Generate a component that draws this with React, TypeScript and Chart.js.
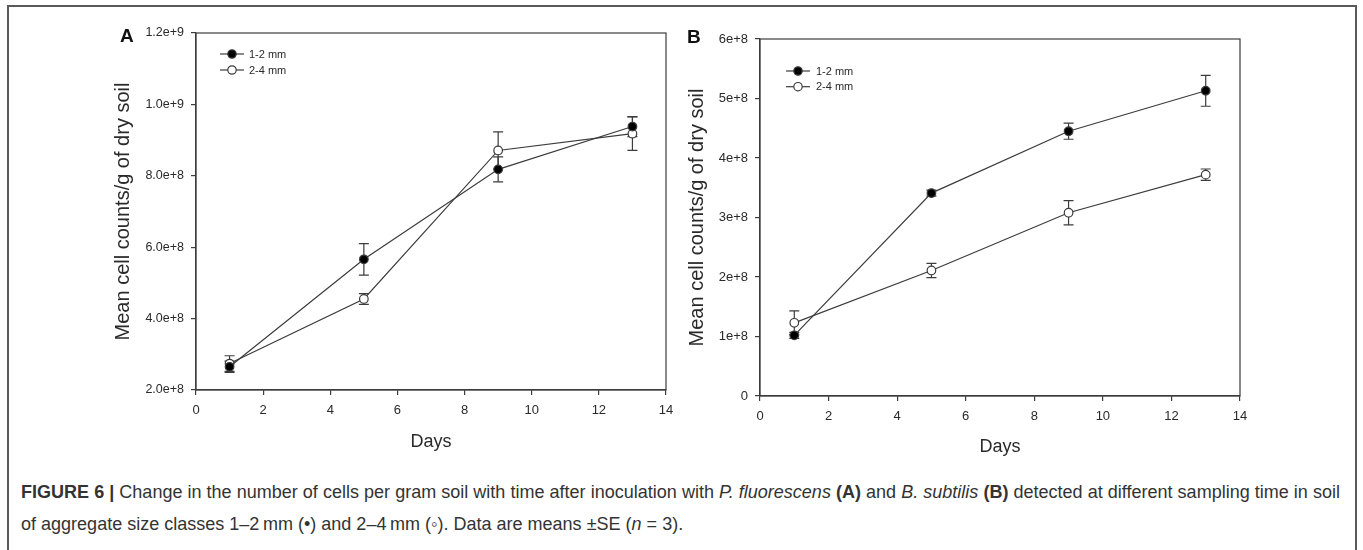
import React, { useEffect, useLayoutEffect, useRef, useState } from "react";
import { Chart, registerables } from "chart.js";

Chart.register(...registerables);

// ---------- data ----------
const days = [1, 5, 9, 13];
const seriesLabels = ["1-2 mm", "2-4 mm"];
const xTickValues = [0, 2, 4, 6, 8, 10, 12, 14];

// Panel A (P. fluorescens)
const aSmall = [2.65e8, 5.66e8, 8.18e8, 9.38e8];
const aSmallErr = [1.6e7, 4.4e7, 3.5e7, 2.8e7];
const aLarge = [2.74e8, 4.55e8, 8.71e8, 9.18e8];
const aLargeErr = [2.2e7, 1.5e7, 5.2e7, 4.7e7];
const aYTickValues = [2e8, 4e8, 6e8, 8e8, 1e9, 1.2e9];
const aYTickLabels = ["2.0e+8", "4.0e+8", "6.0e+8", "8.0e+8", "1.0e+9", "1.2e+9"];

// Panel B (B. subtilis)
const bSmall = [1.02e8, 3.41e8, 4.45e8, 5.13e8];
const bSmallErr = [5e6, 5e6, 1.35e7, 2.6e7];
const bLarge = [1.23e8, 2.11e8, 3.08e8, 3.72e8];
const bLargeErr = [2.0e7, 1.2e7, 2.05e7, 9.5e6];
const bYTickValues = [0, 1e8, 2e8, 3e8, 4e8, 5e8, 6e8];
const bYTickLabels = ["0", "1e+8", "2e+8", "3e+8", "4e+8", "5e+8", "6e+8"];

const FONT = '"Liberation Sans", Arial, Helvetica, sans-serif';
const INK = "#2a2a2a";
const LINE = "#3c3c3c";

type PanelSpec = {
  small: number[];
  smallErr: number[];
  large: number[];
  largeErr: number[];
  yTicks: number[];
  yLabels: string[];
  yMin: number;
  yMax: number;
  tickSize: number;
  padTop: number;
  padRight: number;
  yWidth: number;
  xHeight: number;
  xTitlePad: number;
  yTitlePad: number;
  legend: { x: number; y: number; dy: number; tx: number };
};

function makeConfig(p: PanelSpec): any {
  const errs = [p.smallErr, p.largeErr];

  const framePlugin = {
    id: "frameBox",
    afterDatasetsDraw(chart: any) {
      const { ctx, chartArea } = chart;
      ctx.save();
      ctx.strokeStyle = LINE;
      ctx.lineWidth = 1.2;
      ctx.strokeRect(chartArea.left, chartArea.top, chartArea.right - chartArea.left, chartArea.bottom - chartArea.top);
      ctx.restore();
    },
  };

  const errPlugin = {
    id: "errBars",
    beforeDatasetsDraw(chart: any) {
      const { ctx } = chart;
      const xs = chart.scales.x;
      const ys = chart.scales.y;
      ctx.save();
      ctx.strokeStyle = LINE;
      ctx.lineWidth = 1.2;
      chart.data.datasets.forEach((ds: any, di: number) => {
        ds.data.forEach((pt: any, i: number) => {
          const e = errs[di][i];
          const px = xs.getPixelForValue(pt.x);
          const yTop = ys.getPixelForValue(pt.y + e);
          const yBot = ys.getPixelForValue(pt.y - e);
          ctx.beginPath();
          ctx.moveTo(px, yTop);
          ctx.lineTo(px, yBot);
          ctx.moveTo(px - 5, yTop);
          ctx.lineTo(px + 5, yTop);
          ctx.moveTo(px - 5, yBot);
          ctx.lineTo(px + 5, yBot);
          ctx.stroke();
        });
      });
      ctx.restore();
    },
  };

  const legendPlugin = {
    id: "inLegend",
    afterDraw(chart: any) {
      const { ctx, chartArea } = chart;
      ctx.save();
      chart.data.datasets.forEach((ds: any, i: number) => {
        const cx = chartArea.left + p.legend.x;
        const cy = chartArea.top + p.legend.y + i * p.legend.dy;
        ctx.strokeStyle = LINE;
        ctx.lineWidth = 1.2;
        ctx.beginPath();
        ctx.moveTo(cx - 12, cy);
        ctx.lineTo(cx + 12, cy);
        ctx.stroke();
        ctx.beginPath();
        ctx.arc(cx, cy, 4.2, 0, Math.PI * 2);
        ctx.fillStyle = ds.pointBackgroundColor;
        ctx.fill();
        ctx.stroke();
        ctx.fillStyle = INK;
        ctx.font = `11px ${FONT}`;
        ctx.textBaseline = "middle";
        ctx.textAlign = "left";
        ctx.fillText(ds.label, cx + p.legend.tx, cy + 0.5);
      });
      ctx.restore();
    },
  };

  const mkDs = (label: string, vals: number[], fill: string) => ({
    label,
    data: days.map((d, i) => ({ x: d, y: vals[i] })),
    borderColor: LINE,
    borderWidth: 1.2,
    pointRadius: 4.3,
    pointBorderWidth: 1.2,
    pointBorderColor: LINE,
    pointBackgroundColor: fill,
    pointHoverRadius: 4.3,
    fill: false,
    tension: 0,
  });

  return {
    type: "line",
    data: {
      datasets: [mkDs(seriesLabels[0], p.small, "#000000"), mkDs(seriesLabels[1], p.large, "#ffffff")],
    },
    options: {
      responsive: false,
      animation: false,
      events: [],
      layout: { padding: { top: p.padTop, right: p.padRight, left: 0, bottom: 0 } },
      plugins: { legend: { display: false }, tooltip: { enabled: false } },
      scales: {
        x: {
          type: "linear",
          min: 0,
          max: 14,
          afterBuildTicks: (s: any) => {
            s.ticks = xTickValues.map((v) => ({ value: v }));
          },
          afterFit: (s: any) => {
            s.height = p.xHeight;
          },
          grid: { display: true, drawOnChartArea: false, drawTicks: true, tickLength: 5, color: LINE, lineWidth: 1.2 },
          border: { display: true, color: LINE, width: 1.2 },
          ticks: {
            padding: 8,
            color: INK,
            font: { family: FONT, size: 13 },
            maxRotation: 0,
            autoSkip: false,
            callback: (_v: any, i: number) => String(xTickValues[i]),
          },
          title: {
            display: true,
            text: "Days",
            color: INK,
            font: { family: FONT, size: 18 },
            padding: { top: 0, bottom: p.xTitlePad },
          },
        },
        y: {
          type: "linear",
          min: p.yMin,
          max: p.yMax,
          afterBuildTicks: (s: any) => {
            s.ticks = p.yTicks.map((v) => ({ value: v }));
          },
          afterFit: (s: any) => {
            s.width = p.yWidth;
          },
          grid: { display: true, drawOnChartArea: false, drawTicks: true, tickLength: 5, color: LINE, lineWidth: 1.2 },
          border: { display: true, color: LINE, width: 1.2 },
          ticks: {
            padding: 7,
            color: INK,
            font: { family: FONT, size: p.tickSize },
            autoSkip: false,
            callback: (_v: any, i: number) => p.yLabels[i],
          },
          title: {
            display: true,
            text: "Mean cell counts/g of dry soil",
            color: INK,
            font: { family: FONT, size: 20 },
            padding: { top: p.yTitlePad, bottom: 0 },
          },
        },
      },
    },
    plugins: [errPlugin, framePlugin, legendPlugin],
  };
}

const specA: PanelSpec = {
  small: aSmall,
  smallErr: aSmallErr,
  large: aLarge,
  largeErr: aLargeErr,
  yTicks: aYTickValues,
  yLabels: aYTickLabels,
  yMin: 2e8,
  yMax: 1.2e9,
  tickSize: 12.5,
  padTop: 33,
  padRight: 34,
  yWidth: 96,
  xHeight: 80,
  xTitlePad: 17,
  yTitlePad: 11,
  legend: { x: 36, y: 21, dy: 16, tx: 17 },
};

const specB: PanelSpec = {
  small: bSmall,
  smallErr: bSmallErr,
  large: bLarge,
  largeErr: bLargeErr,
  yTicks: bYTickValues,
  yLabels: bYTickLabels,
  yMin: 0,
  yMax: 6e8,
  tickSize: 13,
  padTop: 39,
  padRight: 40,
  yWidth: 80,
  xHeight: 74,
  xTitlePad: 12,
  yTitlePad: 5,
  legend: { x: 38, y: 32, dy: 15.7, tx: 18 },
};

function Panel({ spec, left }: { spec: PanelSpec; left: number }) {
  const ref = useRef<HTMLCanvasElement | null>(null);
  useEffect(() => {
    if (!ref.current) return;
    const chart = new Chart(ref.current, makeConfig(spec));
    return () => chart.destroy();
  }, [spec]);
  return (
    <canvas
      ref={ref}
      width={600}
      height={470}
      style={{ position: "absolute", left, top: 0, width: 600, height: 470 }}
    />
  );
}

const CAPTION_WIDTH = 1319;

function Caption() {
  const probe = useRef<HTMLSpanElement | null>(null);
  const [size, setSize] = useState(18);
  useLayoutEffect(() => {
    const el = probe.current;
    if (!el) return;
    const w = el.getBoundingClientRect().width;
    if (w > 0) setSize(Math.min(18.5, (18 * CAPTION_WIDTH) / w));
  }, []);
  const line1 = (
    <>
      <b>FIGURE 6 |</b> Change in the number of cells per gram soil with time after inoculation with{" "}
      <i>P. fluorescens</i> <b>(A)</b> and <i>B. subtilis</i> <b>(B)</b> detected at different sampling time in soil
    </>
  );
  return (
    <>
      <span
        ref={probe}
        style={{
          position: "absolute",
          left: 0,
          top: 0,
          visibility: "hidden",
          whiteSpace: "nowrap",
          fontFamily: FONT,
          fontSize: 18,
        }}
      >
        {line1}
      </span>
      <div
        style={{
          position: "absolute",
          left: 21,
          top: 476,
          width: CAPTION_WIDTH,
          fontFamily: FONT,
          fontSize: size,
          lineHeight: "32px",
          color: "#333",
        }}
      >
        <div style={{ textAlign: "justify", textAlignLast: "justify", whiteSpace: "nowrap" } as any}>{line1}</div>
        <div>
          of aggregate size classes 1–2{"\u2009"}mm (•) and 2–4{"\u2009"}mm (◦). Data are means ±SE (<i>n</i> = 3).
        </div>
      </div>
    </>
  );
}

export default function App() {
  const letter: React.CSSProperties = {
    position: "absolute",
    fontFamily: FONT,
    fontWeight: "bold",
    fontSize: 19,
    lineHeight: "19px",
    color: "#111",
  };
  return (
    <div style={{ position: "relative", width: 1363, height: 550, overflow: "hidden", background: "#fff" }}>
      <style>{`body{margin:0;overflow:hidden;background:#fff}`}</style>
      <div
        style={{
          position: "absolute",
          left: 7,
          top: 5,
          width: 1350,
          height: 560,
          boxSizing: "border-box",
          borderTop: "2px solid #5a5a5a",
          borderLeft: "2px solid #5a5a5a",
          borderRight: "2px solid #5a5a5a",
        }}
      />
      <Panel spec={specA} left={100} />
      <Panel spec={specB} left={680} />
      <div style={{ ...letter, left: 120, top: 25.5 }}>A</div>
      <div style={{ ...letter, left: 687, top: 26.5 }}>B</div>
      <Caption />
    </div>
  );
}
